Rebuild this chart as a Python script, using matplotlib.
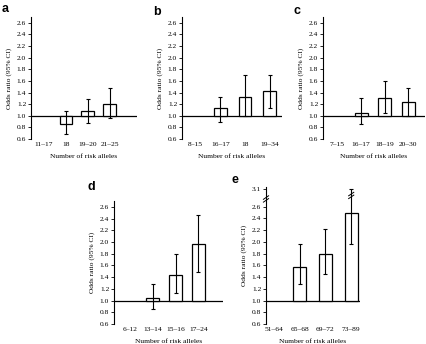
import matplotlib
matplotlib.use('Agg')
import matplotlib.pyplot as plt
import numpy as np

plt.rcParams['font.family'] = ['Liberation Serif', 'DejaVu Serif']
plt.rcParams['font.size'] = 5.4

# odds ratios (reference category first, no bar drawn for it)
cats_a = ['11–17', '18', '19–20', '21–25']
or_a = [1.0, 0.86, 1.08, 1.20]
lo_a = [1.0, 0.68, 0.88, 0.96]
hi_a = [1.0, 1.08, 1.28, 1.47]

cats_b = ['8–15', '16–17', '18', '19–34']
or_b = [1.0, 1.14, 1.33, 1.42]
lo_b = [1.0, 0.90, 1.00, 1.14]
hi_b = [1.0, 1.32, 1.70, 1.71]

cats_c = ['7–15', '16–17', '18–19', '20–30']
or_c = [1.0, 1.05, 1.30, 1.24]
lo_c = [1.0, 0.85, 1.05, 0.99]
hi_c = [1.0, 1.30, 1.60, 1.48]

cats_d = ['6–12', '13–14', '15–16', '17–24']
or_d = [1.0, 1.05, 1.44, 1.97]
lo_d = [1.0, 0.86, 1.13, 1.49]
hi_d = [1.0, 1.29, 1.80, 2.46]

cats_e = ['51–64', '65–68', '69–72', '73–89']
or_e = [1.0, 1.57, 1.80, 2.49]
lo_e = [1.0, 1.28, 1.45, 1.97]
hi_e = [1.0, 1.97, 2.22, 3.1]

yticks = [0.6, 0.8, 1.0, 1.2, 1.4, 1.6, 1.8, 2.0, 2.2, 2.4, 2.6]

W, H = 426, 344
FS = 5.4


def fwd(v):
    v = np.asarray(v, dtype=float)
    return np.where(v <= 2.6, v, 2.6 + (v - 2.6) * 0.6)


def inv(v):
    v = np.asarray(v, dtype=float)
    return np.where(v <= 2.6, v, 2.6 + (v - 2.6) / 0.6)


def panel(fig, box, letter, letter_xy, cats, vals, lo, hi, xlim, ylim, width=0.55, broken=False):
    l, t, r, b = box
    ax = fig.add_axes([l / W, 1 - b / H, (r - l) / W, (b - t) / H])
    if broken:
        ax.set_yscale('function', functions=(fwd, inv))
    x = np.arange(len(cats))
    vals = np.array(vals)
    lo = np.array(lo)
    hi = np.array(hi)
    ax.bar(x[1:], vals[1:] - 1.0, bottom=1.0, width=width, color='white',
           edgecolor='black', linewidth=0.9, zorder=2)
    ax.errorbar(x[1:], vals[1:], yerr=[vals[1:] - lo[1:], hi[1:] - vals[1:]],
                fmt='none', ecolor='black', elinewidth=0.8, capsize=1.6,
                capthick=0.8, zorder=3)
    ax.axhline(1.0, color='black', lw=0.9, zorder=1)
    ax.set_xlim(*xlim)
    ax.set_ylim(*ylim)
    ticks = list(yticks)
    if broken:
        ticks.append(3.1)
    ax.set_yticks(ticks)
    ax.set_yticklabels(['%.1f' % v for v in ticks])
    ax.set_xticks(x)
    ax.set_xticklabels(cats)
    for s in ['top', 'right', 'bottom']:
        ax.spines[s].set_visible(False)
    ax.spines['left'].set_linewidth(0.8)
    ax.tick_params(axis='y', length=2, width=0.6, pad=1.5, labelsize=FS)
    ax.tick_params(axis='x', length=0, pad=2.5, labelsize=FS)
    ax.set_ylabel('Odds ratio (95% CI)', fontsize=FS, labelpad=3)
    ax.set_xlabel('Number of risk alleles', fontsize=FS, labelpad=5)
    fig.text(letter_xy[0] / W, 1 - letter_xy[1] / H, letter, family='Liberation Sans',
             fontweight='bold', fontsize=9, va='baseline', ha='left')
    return ax


fig = plt.figure(figsize=(W / 100, H / 100), dpi=100)

panel(fig, (31, 17, 137, 139), 'a', (2, 12), cats_a, or_a, lo_a, hi_a, (-0.59, 4.25), (0.6, 2.7), width=0.57)
panel(fig, (182, 17, 282, 139), 'b', (153, 15), cats_b, or_b, lo_b, hi_b, (-0.55, 3.5), (0.6, 2.7), width=0.52)
panel(fig, (323, 17, 425, 139), 'c', (293, 14), cats_c, or_c, lo_c, hi_c, (-0.61, 3.7), (0.6, 2.7), width=0.55)
panel(fig, (114, 201, 223, 324), 'd', (88, 190), cats_d, or_d, lo_d, hi_d, (-0.69, 4.07), (0.6, 2.7), width=0.56)
ax = panel(fig, (266, 187, 360, 324), 'e', (232, 183), cats_e, or_e, lo_e, hi_e, (-0.3, 3.34), (0.6, 3.16),
           width=0.5, broken=True)

# break marks on axis and on the clipped error bar
for yy in [2.78, 2.86]:
    ax.plot([-0.4, -0.2], [yy - 0.05, yy + 0.05], color='black', lw=0.7, clip_on=False, zorder=4)
for yy in [2.88, 2.96]:
    ax.plot([2.9, 3.1], [yy - 0.05, yy + 0.05], color='black', lw=0.7, clip_on=False, zorder=4)

fig.savefig('out.png', dpi=100)
